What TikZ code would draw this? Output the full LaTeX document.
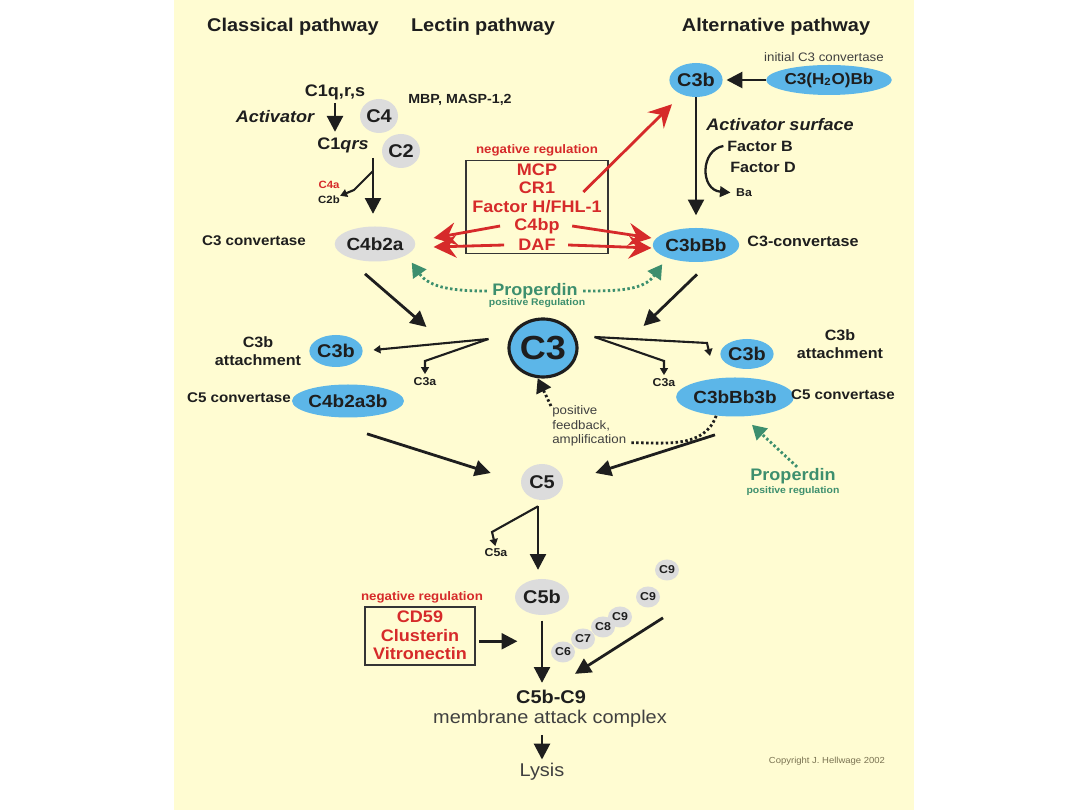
\documentclass[tikz,border=0pt]{standalone}
\usepackage{fontspec}
\setmainfont{Liberation Sans}[FakeStretch=1.08]
\usepackage{tikz}
\usetikzlibrary{positioning, arrows.meta, calc, shapes.geometric}

\definecolor{paper}{HTML}{FFFCD2}
\definecolor{c3blue}{HTML}{5CB6E8}
\definecolor{c4gray}{HTML}{DCDCDC}
\definecolor{negred}{HTML}{D62A2A}
\definecolor{propgreen}{HTML}{3D8F6E}
\definecolor{ink}{HTML}{1E1E1E}
\definecolor{copyink}{HTML}{7A7352}

\newcommand{\fsz}[1]{\fontsize{#1}{\dimexpr#1pt*6/5\relax}\selectfont}

\begin{document}
\begin{tikzpicture}[x=0.02cm, y=-0.02cm, >=Stealth,
    lbl/.style={font=\bfseries\fsz{#1}, text=ink, inner sep=0pt},
    reg/.style={font=\fsz{#1}, text=ink!85, inner sep=0pt},
    blob/.style 2 args={ellipse, fill=c3blue, minimum width=#1*0.02cm, minimum height=#2*0.02cm, inner sep=0pt, font=\bfseries\fsz{10}, text=ink},
    gblob/.style 2 args={ellipse, fill=c4gray, minimum width=#1*0.02cm, minimum height=#2*0.02cm, inner sep=0pt, font=\bfseries\fsz{10}, text=ink},
    barrow/.style={draw=ink, line width=1.6pt, -{Triangle[length=9pt,width=9pt]}},
    tick/.style={draw=ink, line width=1.2pt, -{Triangle[length=4pt,width=4.5pt]}},
    redarrow/.style={draw=negred, line width=1.6pt, -{Stealth[length=13pt,width=13pt,inset=4.5pt]}},
    propdots/.style={draw=propgreen, line width=1.6pt, dash pattern=on 1.4pt off 1.4pt, -{Triangle[length=8pt,width=9pt]}},
    fbdots/.style={draw=ink, line width=1.6pt, dash pattern=on 1.4pt off 1.4pt},
    negframe/.style={draw=ink!90, line width=1.1pt, inner sep=0pt}]
    \useasboundingbox (0,0) rectangle (1080,810);
    \fill[white] (0,0) rectangle (1080,810);
    \fill[paper] (174,0) rectangle (914,810);
    % headings
    \node[lbl=10.5] (classical) at (293,27) {Classical pathway};
    \node[lbl=10.5] (lectin) at (483,27) {Lectin pathway};
    \node[lbl=10.5] (alternative) at (776,27) {Alternative pathway};
    % classical / lectin pathway
    \node[lbl=9.5] (c1) at (335,92) {C1q,r,s};
    \node[lbl=7.5] (mbp) at (460,100) {MBP, MASP-1,2};
    \node[gblob={38}{34}, font=\bfseries\fsz{10.5}] (c4) at (379,116) {C4};
    \node[lbl=9.5] (activator) at (275,117) {\itshape Activator};
    \node[lbl=9.5] (c1act) at (343,145) {C1\textit{qrs}};
    \node[gblob={38}{34}, font=\bfseries\fsz{10.5}] (c2) at (401,151) {C2};
    \node[lbl=6, text=negred] (c4a) at (329,185) {C4a};
    \node[lbl=6] (c2b) at (329,200) {C2b};
    \node[lbl=8] (c3conv) at (254,241) {C3 convertase};
    \node[gblob={75}{35}] (c4b2a) at (375,244) {C4b2a};
    \draw[barrow, shorten <=2pt, shorten >=3pt] (c1.south) -- (c1.south |- c1act.north);
    \coordinate (c2drop) at (373,158);
    \coordinate (c2split) at (373,171);
    \draw[barrow, shorten >=7pt] (c2drop) -- (c2drop |- c4b2a.north);
    \draw[tick] (c2split) -- (354,190) -- (c2b.north east);
    % alternative pathway
    \node[reg=7] (init) at (824,57) {initial C3 convertase};
    \node[blob={122}{30}, font=\bfseries\fsz{9}] (c3h2o) at (829,80) {C3(H\textsubscript{2}O)Bb};
    \node[blob={52}{34}, font=\bfseries\fsz{10.5}] (c3btop) at (696,80) {C3b};
    \draw[barrow, shorten >=2pt] (c3h2o) -- (c3btop);
    \node[lbl=9.5] (surface) at (780,125) {\itshape Activator surface};
    \node[lbl=8.5] (factb) at (760,146) {Factor B};
    \node[lbl=8.5] (factd) at (763,167) {Factor D};
    \node[lbl=6.5] (ba) at (744,193) {Ba};
    \node[blob={74}{34}] (c3bbb) at (696,245) {C3bBb};
    \node[lbl=8.5] (c3conv2) at (803,241) {C3-convertase};
    \draw[barrow, shorten >=7pt] (c3btop) -- (c3bbb);
    \draw[draw=ink, line width=1.3pt, -{Triangle[length=6pt,width=6pt]}, shorten >=3pt]
        ([xshift=-2pt]factb.west) .. controls (700,150) and (700,190) .. (ba.west);
    % negative regulation of the C3 convertases
    \node[negframe, minimum width=2.84cm, minimum height=1.86cm] (negbox) at (537,207) {};
    \node[lbl=7, text=negred] (negtitle) at (537,150) {negative regulation};
    \node[lbl=9.5, text=negred] (mcp) at (537,170) {MCP};
    \node[lbl=9.5, text=negred] (cr1) at (537,188) {CR1};
    \node[lbl=9.5, text=negred] (fh) at (537,207) {Factor H/FHL-1};
    \node[lbl=9.5, text=negred] (c4bp) at (537,226) {C4bp};
    \node[lbl=9.5, text=negred] (daf) at (537,245) {DAF};
    \draw[redarrow] ([xshift=-8pt]c4bp.west) -- ([shift={(18,-6)}]c4b2a.east);
    \draw[redarrow] ([xshift=-8pt]daf.west) -- ([shift={(18,3)}]c4b2a.east);
    \draw[redarrow] ([xshift=7pt]c4bp.east) -- ([shift={(-1,-7)}]c3bbb.west);
    \draw[redarrow] ([xshift=7pt]daf.east) -- ([shift={(-1,3)}]c3bbb.west);
    \draw[redarrow] ([shift={(28,4)}]cr1.east) -- ([shift={(-5,12)}]c3btop.south west);
    % properdin
    \node[lbl=9.5, text=propgreen] (prop) at (535,291) {Properdin};
    \node[lbl=5.5, text=propgreen] (propreg) at (537,303) {positive Regulation};
    \draw[propdots] ([xshift=-3pt]prop.west) to[out=180, in=-55] ([shift={(8,6)}]c4b2a.south east);
    \draw[propdots] ([xshift=3pt]prop.east) to[out=0, in=-125] ([shift={(-3,7)}]c3bbb.south west);
    % C3 and its cleavage
    \node[ellipse, draw=ink, line width=1.8pt, fill=c3blue, minimum width=1.36cm, minimum height=1.16cm,
        inner sep=0pt, font=\bfseries\fsz{19}, text=ink] (c3) at (543,348) {C3};
    \draw[barrow] ([shift={(-10,12)}]c4b2a.south) -- ([shift={(-81,-21)}]c3.west);
    \draw[barrow] ([shift={(1,12)}]c3bbb.south) -- ([shift={(65,-22)}]c3.east);
    \node[blob={48}{32}, font=\bfseries\fsz{10.5}] (c3bl) at (336,351) {C3b};
    \node[lbl=8.5, align=center] (attl) at (258,351) {C3b\\attachment};
    \node[lbl=6.5] (c3al) at (425,382) {C3a};
    \node[blob={89}{33}] (c4b2a3b) at (348,401) {C4b2a3b};
    \node[lbl=8] (c5convl) at (239,398) {C5 convertase};
    \coordinate (c3splitl) at ([shift={(-19,-9)}]c3.west);
    \draw[tick, shorten >=6pt] (c3splitl) -- (c3bl.east);
    \draw[tick, shorten >=2pt] (c3splitl) -- (425,361) -- (c3al.north);
    \node[blob={50}{30}, font=\bfseries\fsz{10.5}] (c3br) at (747,354) {C3b};
    \node[lbl=8.5, align=center] (attr) at (840,344) {C3b\\attachment};
    \node[lbl=6.5] (c3ar) at (664,383) {C3a};
    \coordinate (c3splitr) at ([shift={(16,-11)}]c3.east);
    \draw[tick] (c3splitr) -- (707,343) -- ([shift={(-10,2)}]c3br.west);
    \draw[tick, shorten >=2pt] (c3splitr) -- (664,361) -- (c3ar.north);
    \node[blob={94}{39}] (c3bbb3b) at (735,397) {C3bBb3b};
    \node[lbl=8] (c5convr) at (843,395) {C5 convertase};
    % positive feedback
    \node[reg=7, align=left, anchor=north west] (feedback) at (552,405) {positive\\feedback,\\amplification};
    \draw[fbdots] (c3bbb3b.-135) to[out=-110, in=0] ([shift={(4,-4)}]feedback.south east);
    \draw[fbdots, -{Triangle[length=8pt,width=9pt]}] ([shift={(-1,1)}]feedback.north west) -- (c3.-100);
    % C5
    \node[gblob={42}{36}, font=\bfseries\fsz{10.5}] (c5) at (542,482) {C5};
    \draw[barrow] ([shift={(19,16)}]c4b2a3b.south) -- ([shift={(-30,-9)}]c5.west);
    \draw[barrow] ([shift={(-20,18)}]c3bbb3b.south) -- ([shift={(32,-9)}]c5.east);
    \node[lbl=9.5, text=propgreen] (prop2) at (793,476) {Properdin};
    \node[lbl=5.5, text=propgreen] (prop2reg) at (793,491) {positive regulation};
    \draw[propdots] ([shift={(4,-1)}]prop2.north) -- ([shift={(17,8)}]c3bbb3b.south);
    \node[gblob={54}{36}, font=\bfseries\fsz{10.5}] (c5b) at (542,597) {C5b};
    \node[lbl=6.5] (c5a) at (496,553) {C5a};
    \coordinate (c5drop) at ([shift={(-4,6)}]c5.south);
    \draw[barrow, shorten >=5pt] (c5drop) -- (c5drop |- c5b.north);
    \draw[tick, shorten >=1.5pt] (c5drop) -- (492,532) -- (c5a.north);
    % membrane attack complex
    \node[lbl=7, text=negred] (negtitle2) at (422,597) {negative regulation};
    \node[negframe, minimum width=2.2cm, minimum height=1.16cm] (negbox2) at (420,636) {};
    \node[lbl=9.5, text=negred] (cd59) at (420,617) {CD59};
    \node[lbl=9.5, text=negred] (clusterin) at (420,636) {Clusterin};
    \node[lbl=9.5, text=negred] (vitronectin) at (420,654) {Vitronectin};
    \draw[barrow, shorten <=2pt, shorten >=14pt] ([yshift=-3pt]negbox2.east) -- ([yshift=-3pt]negbox2.east -| c5b.south);
    \foreach \nm/\txt/\cx/\cy in {c9c/C9/667/570, c9b/C9/648/597, c9a/C9/620/617,
        c8/C8/603/627, c7/C7/583/639, c6/C6/563/652}
        \node[gblob={24}{21}, font=\bfseries\fsz{6.5}] (\nm) at (\cx,\cy) {\txt};
    \draw[barrow] ([shift={(15,10)}]c9b.south) -- ([shift={(12,11)}]c6.south);
    \node[lbl=10.5] (mac) at (551,697) {C5b-C9};
    \node[reg=10.5] (macname) at (550,719) {membrane attack complex};
    \draw[barrow, shorten <=3pt, shorten >=4pt] (c5b.south) -- (c5b.south |- mac.north);
    \node[reg=10.5] (lysis) at (542,772) {Lysis};
    \draw[barrow, shorten <=4pt, shorten >=2pt] (lysis.north |- macname.south) -- (lysis.north);
    \node[reg=5, text=copyink] (copyr) at (827,761) {Copyright J. Hellwage 2002};
\end{tikzpicture}
\end{document}
